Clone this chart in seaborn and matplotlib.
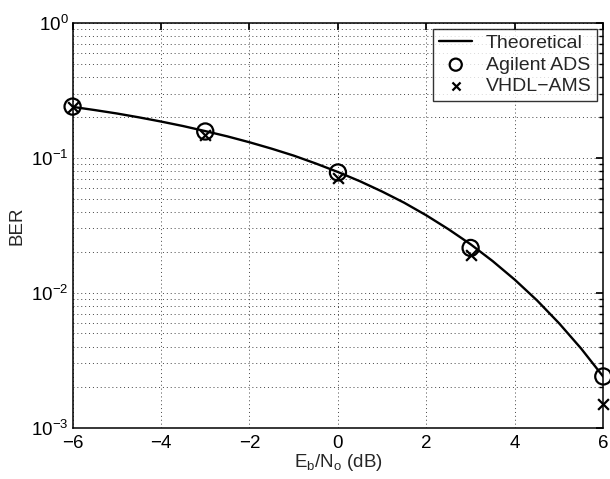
import matplotlib
matplotlib.use("Agg")
import matplotlib.pyplot as plt
import seaborn as sns
import pandas as pd
from matplotlib.ticker import LogLocator, NullFormatter

# ── Data ─────────────────────────────────────────────────────────────────────
theory_ebno = [-6, -5.5, -5, -4.5, -4, -3.5, -3, -2.5, -2, -1.5, -1, -0.5,
               0, 0.5, 1, 1.5, 2, 2.5, 3, 3.5, 4, 4.5, 5, 5.5, 6]
theory_ber  = [0.239, 0.2263, 0.2135, 0.1998, 0.186, 0.1722, 0.158, 0.1444,
               0.1306, 0.1171, 0.104, 0.0909, 0.0786, 0.0671, 0.0563, 0.0465,
               0.0375, 0.0296, 0.0229, 0.01717, 0.0125, 0.0088, 0.00595,
               0.00386, 0.00239]

sim_ebno = [-6, -3, 0, 3, 6]
ads_ber  = [0.24, 0.157, 0.078, 0.0215, 0.0024]
vhdl_ber = [0.24, 0.148, 0.071, 0.019, 0.0015]

sns.set_theme(style="white")
plt.rcParams["font.family"] = ["Liberation Sans", "DejaVu Sans"]
plt.rcParams["mathtext.fontset"] = "custom"
plt.rcParams["mathtext.rm"] = "Liberation Sans"
plt.rcParams["mathtext.it"] = "Liberation Sans"

df_th = pd.DataFrame({"x": theory_ebno, "ber": theory_ber})
df_sim = pd.DataFrame({"x": sim_ebno, "ads": ads_ber, "vhdl": vhdl_ber})

fig = plt.figure(figsize=(6.1, 4.79), dpi=100)
ax = fig.add_axes([0.119, 0.107, 0.87, 0.845])

sns.lineplot(data=df_th, x="x", y="ber", ax=ax, color="black", lw=1.7,
             label="Theoretical")
sns.scatterplot(data=df_sim, x="x", y="ads", ax=ax, marker="o", s=135,
                facecolor="none", edgecolor="black", linewidth=1.6,
                label="Agilent ADS", zorder=3, clip_on=False)
sns.scatterplot(data=df_sim, x="x", y="vhdl", ax=ax, marker="x", s=60,
                color="black", linewidth=1.6, label="VHDL\u2212AMS", zorder=3,
                clip_on=False)

ax.set_yscale("log")
ax.set_xlim(-6, 6)
ax.set_ylim(1e-3, 1)
ax.set_xticks([-6, -4, -2, 0, 2, 4, 6])
ax.set_xticklabels(["\u22126", "\u22124", "\u22122", "0", "2", "4", "6"])
ax.yaxis.set_major_locator(LogLocator(base=10, numticks=10))
ax.yaxis.set_minor_locator(LogLocator(base=10, subs=range(2, 10), numticks=10))
ax.yaxis.set_minor_formatter(NullFormatter())

ax.grid(True, which="major", color="#444444", linestyle=(0, (1, 3)), lw=0.7)
ax.grid(True, which="minor", axis="y", color="#444444", linestyle=(0, (1, 3)), lw=0.7)

ax.tick_params(which="both", direction="in", top=True, right=True,
               labelsize=13.5, colors="black")
ax.tick_params(which="major", length=5)
ax.tick_params(which="minor", length=3)
ax.tick_params(axis="x", pad=5.5)
ax.tick_params(axis="y", pad=3)
for sp in ax.spines.values():
    sp.set_color("black")
    sp.set_linewidth(1.1)

ax.set_xlabel(r"E$_\mathrm{b}$/N$_\mathrm{o}$ (dB)", fontsize=13.5, labelpad=0)
ax.set_ylabel("BER", fontsize=13.5, labelpad=4)

leg = ax.legend(loc="upper right", fontsize=14, frameon=True, fancybox=False,
                edgecolor="black", borderaxespad=0.3, handlelength=1.7,
                handletextpad=0.7, labelspacing=0.2, borderpad=0.3,
                markerscale=0.75)
leg.get_frame().set_linewidth(1.0)

fig.savefig("out.png", dpi=100)
